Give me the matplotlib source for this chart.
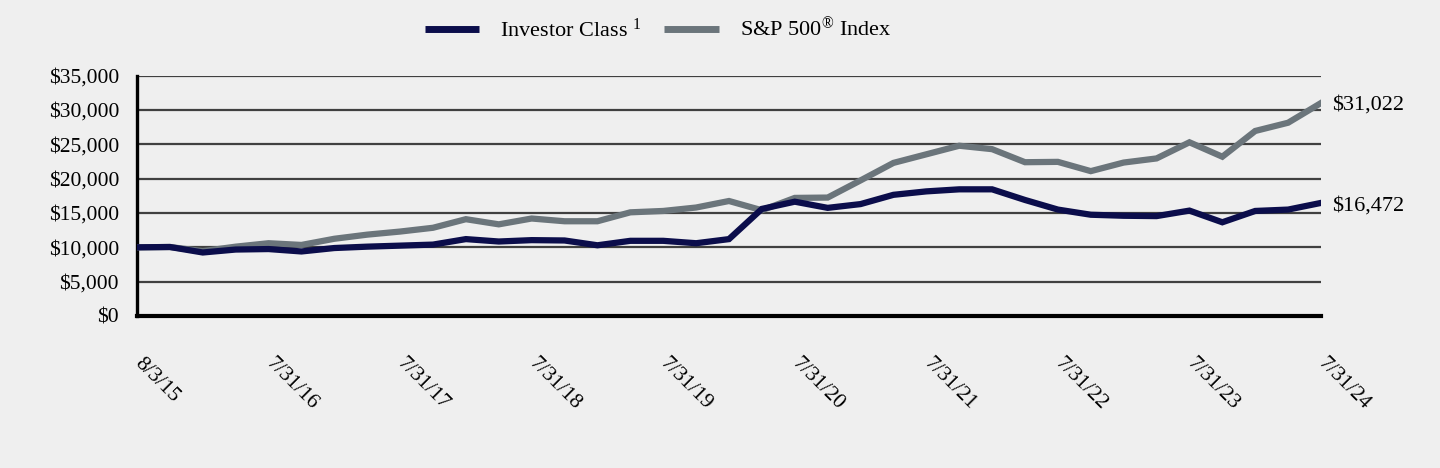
import matplotlib
matplotlib.use("Agg")
import matplotlib.pyplot as plt
from matplotlib.ticker import FuncFormatter

plt.rcParams['font.family'] = ['Liberation Serif', 'DejaVu Serif']
plt.rcParams['mathtext.fontset'] = 'custom'
plt.rcParams['mathtext.rm'] = 'Liberation Serif'
plt.rcParams['mathtext.it'] = 'Liberation Serif:italic'
plt.rcParams['mathtext.bf'] = 'Liberation Serif:bold'

dates = ["8/3/15", "10/31/15", "1/31/16", "4/30/16", "7/31/16", "10/31/16", "1/31/17", "4/30/17",
         "7/31/17", "10/31/17", "1/31/18", "4/30/18", "7/31/18", "10/31/18", "1/31/19", "4/30/19",
         "7/31/19", "10/31/19", "1/31/20", "4/30/20", "7/31/20", "10/31/20", "1/31/21", "4/30/21",
         "7/31/21", "10/31/21", "1/31/22", "4/30/22", "7/31/22", "10/31/22", "1/31/23", "4/30/23",
         "7/31/23", "10/31/23", "1/31/24", "4/30/24", "7/31/24"]

investor = [10000, 10050, 9250, 9680, 9750, 9400, 9900, 10100,
            10250, 10400, 11200, 10850, 11050, 11000, 10300, 10950,
            10950, 10600, 11200, 15600, 16650, 15750, 16300, 17650,
            18150, 18450, 18450, 16900, 15500, 14750, 14600, 14550,
            15350, 13650, 15300, 15500, 16472]

sp500 = [10000, 10050, 9450, 10100, 10600, 10350, 11250, 11850,
         12300, 12850, 14100, 13350, 14200, 13800, 13800, 15100,
         15300, 15800, 16750, 15400, 17200, 17250, 19750, 22300,
         23550, 24800, 24300, 22400, 22450, 21100, 22350, 22950,
         25300, 23200, 26950, 28150, 31022]

tick_labels = ["8/3/15", "7/31/16", "7/31/17", "7/31/18", "7/31/19",
               "7/31/20", "7/31/21", "7/31/22", "7/31/23", "7/31/24"]

series_names = [r"Investor Class $^{1}$", r"S&P 500$^{®}$ Index"]
colors = ["#0b0d4b", "#6b757b"]

bg = "#efefef"
fig = plt.figure(figsize=(14.4, 4.68), dpi=100, facecolor=bg)
ax = fig.add_axes([137/1440, 1 - 316/468, (1321 - 137)/1440, (316 - 75.7)/468])
ax.set_facecolor(bg)

x = list(range(len(dates)))
l1, = ax.plot(x, investor, color=colors[0], lw=4.5, solid_joinstyle='miter', zorder=4)
l2, = ax.plot(x, sp500, color=colors[1], lw=4.5, solid_joinstyle='miter', zorder=3)

ax.set_xlim(0, len(dates) - 1)
ax.set_ylim(0, 35000)
ax.set_yticks(range(0, 35001, 5000))
ax.yaxis.set_major_formatter(FuncFormatter(lambda v, p: "${:,.0f}".format(v)))
ax.grid(axis='y', color='#404040', lw=1.6, zorder=1)
ax.set_axisbelow(True)

tick_pos = [dates.index(t) for t in tick_labels]
ax.set_xticks(tick_pos)
ax.set_xticklabels(tick_labels, rotation=-45, ha='left', va='center', rotation_mode='anchor')
ax.tick_params(axis='x', length=0, pad=32, labelsize=15.5)
ax.tick_params(axis='y', length=0, pad=13, labelsize=15.5)

for s in ['top', 'right']:
    ax.spines[s].set_visible(False)
ax.spines['left'].set_linewidth(2.4)
ax.spines['left'].set_color('black')
ax.spines['bottom'].set_linewidth(3.0)
ax.spines['bottom'].set_color('black')

ax.annotate("${:,.0f}".format(sp500[-1]), xy=(x[-1], sp500[-1]), xytext=(8, -1.5),
            textcoords='offset points', va='center', ha='left', fontsize=16, annotation_clip=False)
ax.annotate("${:,.0f}".format(investor[-1]), xy=(x[-1], investor[-1]), xytext=(8, -2.5),
            textcoords='offset points', va='center', ha='left', fontsize=16, annotation_clip=False)

leg = fig.legend([l1, l2], series_names, loc='center', bbox_to_anchor=(658/1440, 1 - 29.5/468),
                 ncol=2, frameon=False, fontsize=16, handlelength=2.45, handletextpad=0.95,
                 columnspacing=1.0)
for h in leg.get_lines():
    h.set_linewidth(5)
    h.set_solid_capstyle('butt')

fig.savefig("out.png", dpi=100, facecolor=bg)
